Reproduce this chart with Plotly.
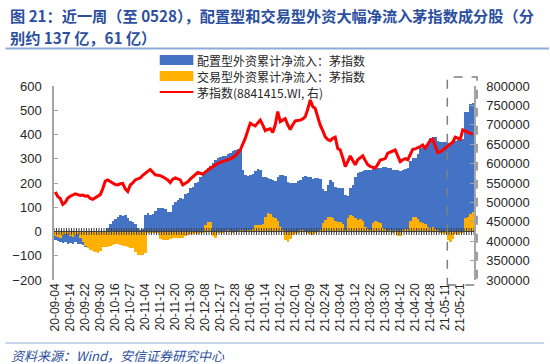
import plotly.graph_objects as go

# ---------------- data ----------------
tick_labels = ["20-09-04", "20-09-14", "20-09-22", "20-09-30", "20-10-16", "20-10-27", "20-11-04",
               "20-11-12", "20-11-20", "20-11-30", "20-12-08", "20-12-17", "20-12-28", "21-01-06",
               "21-01-14", "21-01-22", "21-02-01", "21-02-09", "21-02-24", "21-03-04", "21-03-12",
               "21-03-22", "21-03-30", "21-04-12", "21-04-20", "21-04-28", "21-05-11", "21-05-21"]
label_step = 6  # one label every 6 trading days

# 配置型外资累计净流入：茅指数 (亿元)
alloc_flow = [
    -35, -40, -45, -48, -42, -50, -48, -52, -45, -50,
    -52, -55, -62, -70, -76, -82, -86, -88, -80, -40,
    -5, 15, 30, 45, 52, 60, 68, 62, 68, 55,
    42, 38, 30, 15, 8, 12, 70, 76, 68, 72,
    85, 97, 95, 97, 92, 82, 80, 110, 123, 130,
    138, 135, 155, 160, 179, 185, 200, 205, 225, 233,
    240, 262, 270, 282, 295, 305, 308, 311, 312, 318,
    325, 333, 336, 340, 342, 254, 235, 230, 233, 238,
    250, 258, 255, 226, 225, 222, 215, 212, 208, 225,
    233, 235, 228, 205, 200, 198, 202, 210, 212, 226,
    228, 224, 226, 218, 222, 220, 215, 175, 168, 190,
    212, 205, 182, 178, 180, 178, 150, 145, 180, 192,
    225, 241, 245, 250, 254, 255, 252, 258, 262, 260,
    262, 265, 266, 262, 260, 255, 252, 253, 250, 255,
    258, 262, 290, 303, 305, 320, 345, 350, 352, 355,
    385, 391, 390, 372, 370, 368, 370, 365, 362, 366,
    372, 377, 378, 380, 494, 494, 525, 530,
]

# 交易型外资累计净流入：茅指数 (亿元)
trade_flow = [
    -20, -22, -25, -15, -10, -12, -18, -22, -15, -10,
    -25, -45, -60, -68, -75, -80, -86, -88, -82, -65,
    -62, -63, -58, -55, -52, -50, -55, -60, -58, -62,
    -66, -70, -85, -95, -97, -96, -90, -5, -3, -8,
    -4, -6, -30, -35, -33, -36, -30, -28, -25, -27,
    -28, -26, -20, -15, -10, -12, -8, -10, -5, -8,
    25, 40, 38, -20, -25, -5, -3, -4, -2, 3,
    2, -3, -2, 2, 4, 3, -2, 5, 8, 10,
    25, 28, 27, 30, 60, 76, 72, 58, 55, 45,
    20, 5, -35, -44, -30, -15, -12, -5, 3, 5,
    2, -3, -12, -15, -8, 2, 5, 35, 47, 58,
    61, 55, 42, 40, 38, 30, 5, 55, 68, 62,
    55, 48, 52, 45, 20, 10, 8, 35, 42, 40,
    35, 15, 10, 2, 3, -5, 5, -18, -20, 8,
    10, 12, 45, 61, 58, 50, 38, 35, 30, 20,
    15, 18, 12, 5, -8, -5, -12, -35, -42, -30,
    -10, -15, -8, -6, 55, 61, 72, 80,
]

# 茅指数 (8841415.WI) level
mao_index = [
    527000, 515000, 510000, 495000, 500000, 511000, 516000, 519000, 522000, 520000,
    518000, 519000, 516000, 517000, 510000, 508000, 512000, 514000, 520000, 535000,
    555000, 558000, 555000, 550000, 546000, 545000, 548000, 549000, 535000, 528000,
    545000, 550000, 558000, 560000, 563000, 570000, 576000, 580000, 585000, 578000,
    571000, 570000, 569000, 566000, 563000, 558000, 551000, 560000, 563000, 560000,
    558000, 545000, 548000, 553000, 560000, 566000, 570000, 577000, 575000, 573000,
    578000, 584000, 588000, 592000, 597000, 600000, 603000, 605000, 606000, 609000,
    612000, 616000, 620000, 628000, 635000, 650000, 665000, 685000, 704000, 700000,
    697000, 705000, 712000, 700000, 685000, 688000, 690000, 680000, 700000, 734000,
    708000, 712000, 716000, 700000, 688000, 700000, 710000, 711000, 712000, 715000,
    721000, 740000, 764000, 747000, 742000, 720000, 699000, 685000, 669000, 662000,
    659000, 665000, 668000, 639000, 635000, 615000, 592000, 605000, 620000, 608000,
    597000, 610000, 615000, 620000, 608000, 597000, 593000, 590000, 588000, 598000,
    609000, 611000, 613000, 627000, 630000, 633000, 635000, 620000, 605000, 610000,
    613000, 610000, 625000, 637000, 638000, 640000, 644000, 648000, 640000, 650000,
    660000, 663000, 645000, 628000, 630000, 635000, 640000, 643000, 648000, 655000,
    668000, 665000, 663000, 687000, 683000, 681000, 678000, 676000,
]

series_names = ["配置型外资累计净流入：茅指数", "交易型外资累计净流入：茅指数", "茅指数(8841415.WI, 右)"]
title_lines = ["图 21：近一周（至 0528），配置型和交易型外资大幅净流入茅指数成分股（分",
               "别约 137 亿，61 亿）"]
source_text = "资料来源：Wind，安信证券研究中心"

# ---------------- figure ----------------
W, H = 550, 364
ML, MR, MT, MB = 49, 76, 86, 84
PW, PH = W - ML - MR, H - MT - MB


def px(x):
    return (x - ML) / PW


def py(y):
    return (H - MB - y) / PH


n = len(alloc_flow)
days = list(range(n))
FONT = "Liberation Sans, Arial, Noto Sans CJK SC, sans-serif"
CJK = "Noto Sans CJK SC, Liberation Sans, sans-serif"
BLUE = "#4472C4"
ORANGE = "#FFB000"
RED = "#FF0000"
TITLE_BLUE = "#2B4F9E"

fig = go.Figure()
fig.add_trace(go.Bar(x=days, y=alloc_flow, name=series_names[0], marker=dict(color=BLUE, line=dict(width=0)),
                     showlegend=False))
fig.add_trace(go.Bar(x=days, y=trade_flow, name=series_names[1], marker=dict(color=ORANGE, line=dict(width=0)),
                     showlegend=False))
# category tick marks along the zero axis
fig.add_trace(go.Scatter(x=[d - 0.5 for d in days] + [n - 0.5], y=[0] * (n + 1), mode="markers",
                         marker=dict(symbol="line-ns", size=5, line=dict(width=1, color="#404040")),
                         showlegend=False, hoverinfo="skip"))
fig.add_trace(go.Scatter(x=days, y=mao_index, name=series_names[2], mode="lines", yaxis="y2",
                         line=dict(color=RED, width=3), showlegend=False))

fig.update_layout(
    width=W, height=H,
    margin=dict(l=ML, r=MR, t=MT, b=MB),
    paper_bgcolor="white", plot_bgcolor="white",
    barmode="overlay", bargap=0,
    font=dict(family=FONT, size=12, color="#262626"),
    xaxis=dict(range=[-0.5, n - 0.5], tickmode="array",
               tickvals=days[::label_step][:len(tick_labels)], ticktext=tick_labels,
               tickangle=-90, showline=False, ticks="", showgrid=False, zeroline=False,
               tickfont=dict(size=12, color="#262626")),
    yaxis=dict(range=[-200, 600], dtick=100, showgrid=False, zeroline=False,
               showline=True, linecolor="#A6A6A6", linewidth=1.5,
               ticks="inside", ticklen=4, tickcolor="#A6A6A6",
               tickfont=dict(size=13, color="#262626"), ticklabelstandoff=8),
    yaxis2=dict(range=[300000, 800000], dtick=50000, overlaying="y", side="right",
                showgrid=False, zeroline=False, tickformat="d",
                showline=True, linecolor="#A6A6A6", linewidth=1.5,
                ticks="inside", ticklen=4, tickcolor="#A6A6A6",
                tickfont=dict(size=13, color="#262626"), ticklabelstandoff=8),
)

legend_rows = [60, 76, 92]
shapes = [
    # zero axis line
    dict(type="line", xref="paper", yref="y", x0=0, x1=1, y0=0, y1=0,
         line=dict(color="#404040", width=1), layer="above"),
    # title underline
    dict(type="line", xref="paper", yref="paper", x0=px(0), x1=px(W), y0=py(48.5), y1=py(48.5),
         line=dict(color="#8EA9DB", width=2)),
    # footer line
    dict(type="line", xref="paper", yref="paper", x0=px(0), x1=px(545), y0=py(343), y1=py(343),
         line=dict(color="#8EA9DB", width=1)),
    # dashed highlight box
    dict(type="rect", xref="paper", yref="paper", x0=px(447), x1=px(477), y0=py(285), y1=py(77),
         line=dict(color="#7F7F7F", width=1.5, dash="dash"), fillcolor="rgba(0,0,0,0)"),
    # legend symbols
    dict(type="rect", xref="paper", yref="paper", x0=px(156), x1=px(190),
         y0=py(legend_rows[0] + 5), y1=py(legend_rows[0] - 5), line=dict(width=0), fillcolor=BLUE),
    dict(type="rect", xref="paper", yref="paper", x0=px(156), x1=px(190),
         y0=py(legend_rows[1] + 5), y1=py(legend_rows[1] - 5), line=dict(width=0), fillcolor=ORANGE),
    dict(type="line", xref="paper", yref="paper", x0=px(156), x1=px(190),
         y0=py(legend_rows[2]), y1=py(legend_rows[2]), line=dict(color=RED, width=2)),
]
fig.update_layout(shapes=shapes)

annotations = [
    dict(text="<b>" + title_lines[0] + "</b>", x=px(2), y=py(15), xanchor="left", yanchor="middle",
         font=dict(family=CJK, size=15.2, color=TITLE_BLUE)),
    dict(text="<b>" + title_lines[1] + "</b>", x=px(2), y=py(37), xanchor="left", yanchor="middle",
         font=dict(family=CJK, size=15.2, color=TITLE_BLUE)),
    dict(text="<i>" + source_text + "</i>", x=px(3), y=py(355), xanchor="left", yanchor="middle",
         font=dict(family=CJK, size=13, color=TITLE_BLUE)),
]
for k, yy in enumerate(legend_rows):
    annotations.append(dict(text=series_names[k], x=px(192), y=py(yy), xanchor="left", yanchor="middle",
                            font=dict(family=CJK, size=12, color="#262626")))
for a in annotations:
    a.update(xref="paper", yref="paper", showarrow=False)
fig.update_layout(annotations=annotations)

# remove the default page margin so the 550x364 figure fills the window exactly
fig.write_html("out.html",
               config={"displayModeBar": False},
               post_script="document.body.style.margin='0';document.body.style.padding='0';"
                           "document.body.style.overflow='hidden';")
